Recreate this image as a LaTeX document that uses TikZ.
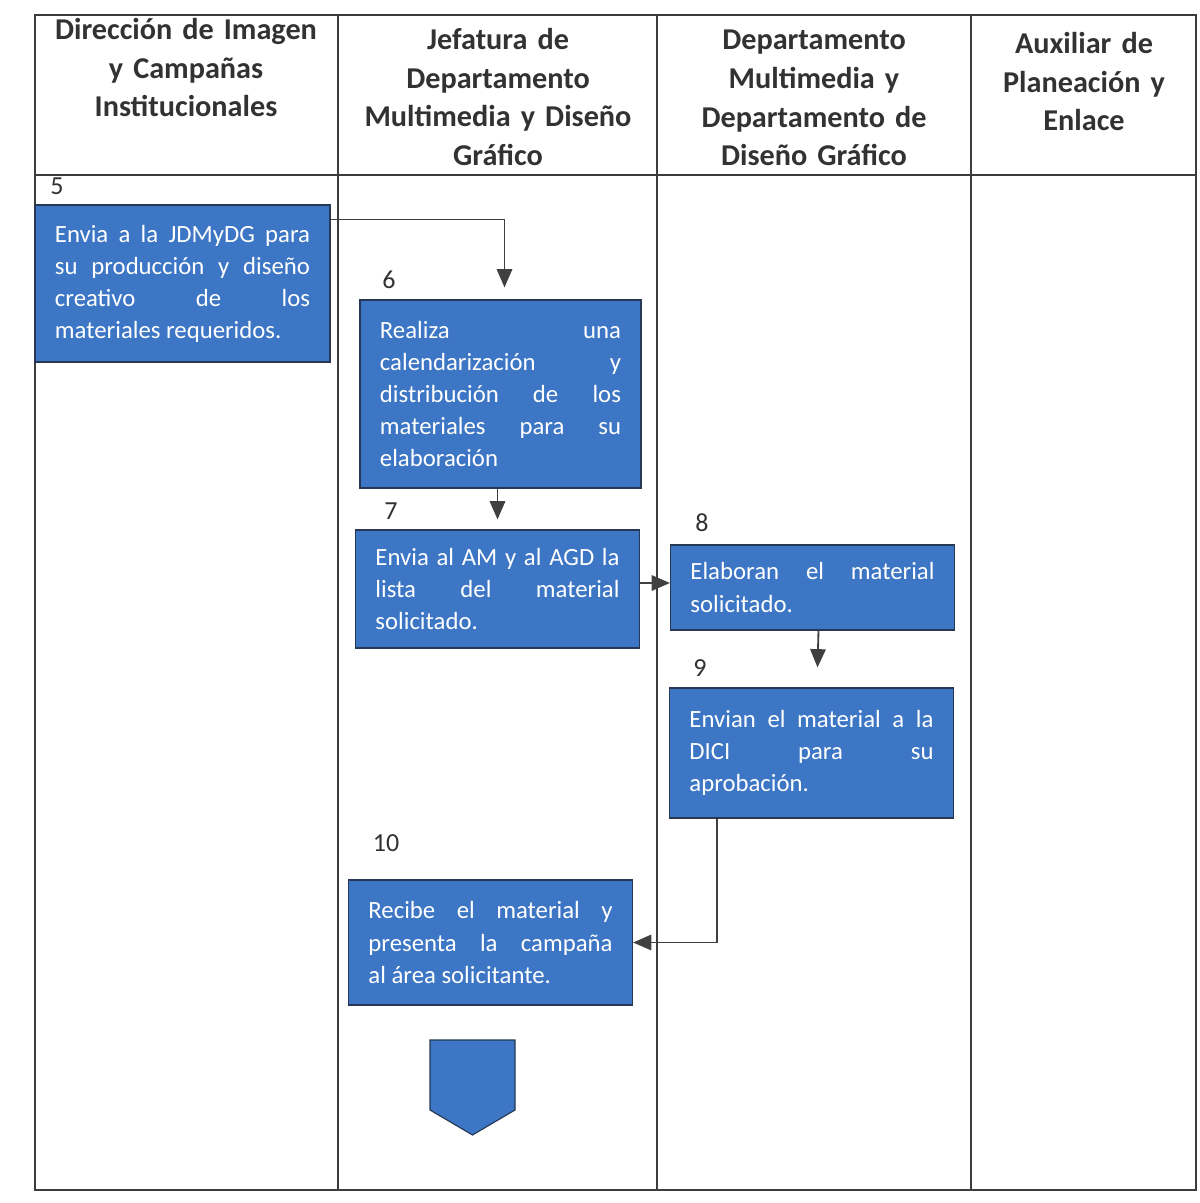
\documentclass[tikz,border=0pt]{standalone}
\usepackage{fontspec}
\setmainfont{Carlito}
\usetikzlibrary{
  arrows.meta,
  positioning,
  calc,
}
\definecolor{stepfill}{RGB}{60,118,196}
\definecolor{stepline}{RGB}{38,56,84}
\definecolor{gridline}{RGB}{60,60,60}
\definecolor{arrowcol}{RGB}{64,64,64}
\definecolor{headtext}{RGB}{50,50,50}
\newcommand{\nobreakhyph}{\hyphenpenalty=10000\relax\tolerance=9999\relax\emergencystretch=2em\relax}
\tikzset{
  lanehead/.style={
    anchor=north, align=center, inner sep=0pt, text=headtext,
    font=\fontsize{21.5}{27.5}\selectfont\bfseries
  },
  stepbox/.style={
    rectangle, draw=stepline, fill=stepfill, text=white, line width=0.8pt,
    inner xsep=0.5cm, text width=6.1cm, align=justify,
    font=\fontsize{17.6}{22.8}\selectfont\nobreakhyph
  },
  steplabel/.style={font=\fontsize{18.5}{20}\selectfont, text=headtext, inner sep=0pt},
  flowarrow/.style={-{Triangle[width=11pt,length=13pt]}, line width=1.3pt, arrowcol},
  offpage/.style={draw=stepline, fill=stepfill, line width=0.8pt},
}

\begin{document}
\begin{tikzpicture}[x=0.025cm, y=-0.025cm]
  \useasboundingbox (0,0) rectangle (1199,1203);

  % ── Swimlane grid ──
  \draw[gridline, line width=0.8pt] (35,15) rectangle (1196,1190);
  \foreach \x in {338,657,971} {
    \draw[gridline, line width=0.8pt] (\x,15) -- (\x,1190);
  }
  \draw[gridline, line width=0.8pt] (35,175) -- (1196,175);

  % ── Lane headers ──
  \node[lanehead, text width=7.4cm] (H1) at (186,18)
    {Dirección de Imagen\\y Campañas\\Institucionales};
  \node[lanehead, text width=7.8cm] (H2) at (498,28)
    {Jefatura de\\Departamento\\Multimedia y Diseño\\Gráfico};
  \node[lanehead, text width=7.6cm] (H3) at (814,30)
    {Departamento\\Multimedia y\\Departamento de\\Diseño Gráfico};
  \node[lanehead, text width=5.5cm] (H4) at (1084,32)
    {Auxiliar de\\Planeación y\\Enlace};

  % ── Steps ──
  \node[stepbox, text width=6.375cm, minimum height=3.925cm] (s5) at (182.5,283.5)
    {Envia a la JDMyDG para\linebreak su producción y diseño\linebreak
     creativo de los\linebreak materiales requeridos.};
  \node[stepbox, text width=6.025cm, minimum height=4.7cm] (s6) at (500.5,394)
    {Realiza una\linebreak calendarización y\linebreak distribución de los\linebreak
     materiales para su\linebreak elaboración};
  \node[stepbox, minimum height=2.95cm] (s7) at (497.5,589)
    {Envia al AM y al AGD la\linebreak lista del material\linebreak solicitado.};
  \node[stepbox, minimum height=2.125cm] (s8) at (812.5,587.5)
    {Elaboran el material\linebreak solicitado.};
  \node[stepbox, minimum height=3.25cm] (s9) at (811.5,753)
    {Envian el material a la\linebreak DICI para su\linebreak aprobación.};
  \node[stepbox, minimum height=3.125cm] (s10) at (490.5,942.5)
    {Recibe el material y\linebreak presenta la campaña\linebreak al área solicitante.};

  % ── Step numbers ──
  \node[steplabel] (n5) at (57,186) {5};
  \node[steplabel] (n6) at (389,280) {6};
  \node[steplabel] (n7) at (391,511) {7};
  \node[steplabel] (n8) at (702,523) {8};
  \node[steplabel] (n9) at (700,668) {9};
  \node[steplabel] (n10) at (386,843) {10};

  % ── Off-page connector ──
  \draw[offpage] (430,1040) -- (515,1040) -- (515,1110) -- (472.5,1135)
    -- (430,1110) -- cycle;

  % ── Connectors ──
  \draw[flowarrow] ([yshift=-0.375cm]s5.north east) -| ([xshift=0.1cm, yshift=0.3cm]s6.north);
  \draw[flowarrow] (s6.south -| s7) -- ([yshift=0.25cm]s7.north);
  \draw[flowarrow] ([yshift=0.15cm]s7.east) -- ([yshift=0.15cm]s7.east -| s8.west);
  \draw[flowarrow] ([xshift=0.15cm]s8.south) -- ([xshift=0.15cm, yshift=0.5cm]s9.north);
  \draw[flowarrow] ([xshift=-2.36cm]s9.south) |- (s10.east);

\end{tikzpicture}
\end{document}
